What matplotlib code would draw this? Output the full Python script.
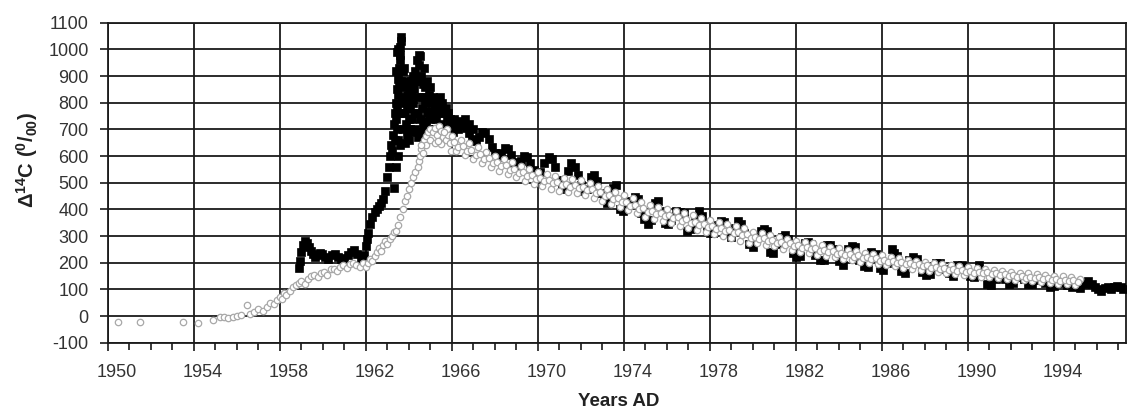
import matplotlib
matplotlib.use("Agg")
import matplotlib.pyplot as plt
from matplotlib.ticker import MultipleLocator, FixedLocator
from matplotlib.transforms import ScaledTranslation

plt.rcParams['font.family'] = ['Liberation Sans', 'DejaVu Sans']
plt.rcParams['axes.unicode_minus'] = False
plt.rcParams['mathtext.fontset'] = 'custom'
plt.rcParams['mathtext.rm'] = 'Liberation Sans:bold'
plt.rcParams['mathtext.it'] = 'Liberation Sans:bold'
plt.rcParams['mathtext.bf'] = 'Liberation Sans:bold'

# ---------------- data ----------------
# Northern hemisphere (black filled squares)
nh_year = [
    1958.9, 1958.95, 1959.0, 1959.05, 1959.15, 1959.25, 1959.35, 1959.45, 1959.55, 1959.65,
    1959.75, 1959.85, 1959.95, 1960.1, 1960.25, 1960.4, 1960.55, 1960.7, 1960.85, 1961.0,
    1961.15, 1961.3, 1961.45, 1961.6, 1961.75, 1961.9, 1962.0, 1962.05, 1962.1, 1962.2,
    1962.3, 1962.4, 1962.5, 1962.6, 1962.7, 1962.8, 1962.9, 1963.0, 1963.05, 1963.1,
    1963.15, 1963.2, 1963.25, 1963.3, 1963.35, 1963.4, 1963.45, 1963.5, 1963.55, 1963.6,
    1963.65, 1963.62, 1963.6, 1963.58, 1963.55, 1963.5, 1963.45, 1963.4, 1963.42, 1963.5,
    1963.6, 1963.7, 1963.72, 1963.75, 1963.8, 1963.85, 1963.9, 1963.95, 1964.0, 1964.05,
    1964.1, 1964.15, 1964.2, 1964.3, 1964.35, 1964.5, 1964.45, 1964.55, 1964.65, 1964.75,
    1964.85, 1964.95, 1965.05, 1964.9, 1964.8, 1964.7, 1964.55, 1964.4, 1964.2, 1964.0,
    1965.15, 1965.25, 1965.35, 1965.45, 1965.55, 1965.65, 1965.75, 1965.85, 1965.95, 1966.05,
    1966.2, 1966.35, 1966.5, 1966.65, 1966.8, 1966.95, 1967.1, 1967.25, 1967.4, 1967.55,
    1967.7, 1967.85, 1968.0, 1968.15, 1968.3, 1968.45, 1968.6, 1968.75, 1968.9, 1969.05,
    1969.2, 1969.35, 1969.5, 1969.65, 1969.8, 1969.95, 1970.1, 1970.3, 1970.5, 1970.65,
    1970.8, 1970.95, 1971.1, 1971.25, 1971.4, 1971.55, 1971.7, 1971.85, 1972.0, 1972.15,
    1972.3, 1972.45, 1972.6, 1972.75, 1972.9, 1973.05, 1973.2, 1973.35, 1973.5, 1973.65,
    1973.8, 1973.95, 1974.1, 1974.3, 1974.5, 1974.65, 1974.8, 1974.95, 1975.1, 1975.25,
    1975.45, 1975.6, 1975.75, 1975.9, 1976.05, 1976.2, 1976.4, 1976.6, 1976.8, 1976.95,
    1977.1, 1977.3, 1977.5, 1977.65, 1977.85, 1978.0, 1978.15, 1978.35, 1978.5, 1978.65,
    1978.85, 1979.0, 1979.15, 1979.3, 1979.45, 1979.6, 1979.8, 1980.0, 1980.15, 1980.35,
    1980.5, 1980.65, 1980.8, 1980.95, 1981.15, 1981.35, 1981.5, 1981.65, 1981.85, 1982.0,
    1982.2, 1982.4, 1982.55, 1982.7, 1982.9, 1983.1, 1983.3, 1983.45, 1983.6, 1983.8,
    1984.0, 1984.2, 1984.4, 1984.6, 1984.75, 1984.95, 1985.15, 1985.35, 1985.5, 1985.7,
    1985.9, 1986.05, 1986.25, 1986.45, 1986.55, 1986.7, 1986.9, 1987.05, 1987.25, 1987.45,
    1987.65, 1987.85, 1988.05, 1988.25, 1988.5, 1988.7, 1988.9, 1989.1, 1989.3, 1989.5,
    1989.7, 1989.9, 1990.1, 1990.3, 1990.5, 1990.7, 1990.9, 1991.05, 1991.3, 1991.5,
    1991.7, 1991.9, 1992.1, 1992.4, 1992.6, 1992.8, 1993.0, 1993.3, 1993.6, 1993.8,
    1994.0, 1994.3, 1994.6, 1994.85, 1995.0, 1995.2, 1995.45, 1995.6, 1995.75, 1995.9,
    1996.05, 1996.2, 1996.35, 1996.5, 1996.65, 1996.8, 1996.95, 1997.1, 1997.2,
]
nh_d14c = [
    180, 205, 240, 265, 280, 272, 258, 245, 232, 220,
    228, 238, 232, 222, 214, 228, 232, 222, 214, 218,
    228, 240, 246, 232, 218, 228, 262, 290, 312, 345,
    372, 390, 400, 412, 425, 440, 470, 520, 560, 600,
    640, 620, 680, 720, 760, 800, 850, 890, 930, 980,
    1030, 1045, 1010, 960, 870, 830, 780, 740, 700, 660,
    640, 920, 860, 800, 760, 720, 680, 700, 740, 780,
    830, 870, 900, 920, 960, 975, 940, 900, 870, 860,
    880, 830, 800, 770, 730, 700, 690, 670, 690, 660,
    760, 740, 790, 820, 800, 770, 745, 715, 700, 690,
    710, 730, 725, 705, 685, 665, 655, 670, 690, 688,
    665, 635, 610, 598, 612, 630, 625, 605, 578, 565,
    580, 600, 595, 575, 548, 530, 540, 575, 598, 590,
    560, 510, 485, 475, 545, 572, 560, 530, 490, 470,
    475, 520, 530, 505, 460, 440, 425, 450, 480, 492,
    400, 395, 410, 430, 448, 440, 385, 365, 345, 360,
    425, 430, 395, 350, 345, 360, 395, 390, 385, 320,
    325, 360, 392, 375, 330, 310, 312, 340, 358, 352,
    310, 298, 330, 356, 345, 310, 270, 258, 290, 318,
    326, 318, 240, 236, 270, 298, 302, 290, 235, 222,
    225, 272, 278, 270, 230, 212, 210, 266, 268, 250,
    205, 192, 250, 264, 258, 210, 188, 185, 240, 232,
    180, 172, 200, 250, 235, 225, 170, 160, 210, 222,
    215, 165, 155, 158, 200, 198, 175, 160, 150, 190,
    192, 165, 150, 145, 190, 170, 120, 115, 140, 150,
    140, 122, 125, 145, 140, 122, 122, 135, 125, 108,
    112, 125, 118, 108, 112, 105, 122, 130, 120, 110,
    100, 95, 105, 110, 100, 108, 112, 108, 100,
]

# extra northern samples in the 1963-1967 bomb peak
nh_peak_year = [
    1963.35, 1963.4, 1963.45, 1963.5, 1963.55, 1963.65, 1963.68, 1963.7, 1963.7, 1963.8,
    1963.82, 1963.9, 1963.9, 1964.0, 1964.0, 1964.05, 1964.1, 1964.15, 1964.2, 1964.25,
    1964.25, 1964.3, 1964.35, 1964.4, 1964.4, 1964.5, 1964.5, 1964.6, 1964.6, 1964.65,
    1964.7, 1964.75, 1964.8, 1964.85, 1964.9, 1965.0, 1965.0, 1965.1, 1965.1, 1965.2,
    1965.3, 1965.4, 1965.5, 1965.6, 1965.7, 1965.8, 1965.9, 1966.0, 1966.1, 1966.3,
    1966.6, 1966.8, 1967.0, 1963.3, 1963.38, 1963.48, 1963.75, 1964.45, 1965.25, 1965.45,
]
nh_peak_d14c = [
    660, 920, 990, 1000, 760, 880, 820, 760, 700, 880,
    650, 830, 780, 860, 800, 700, 880, 740, 800, 760,
    850, 700, 880, 820, 760, 880, 740, 820, 780, 720,
    930, 800, 820, 760, 700, 740, 860, 700, 820, 780,
    700, 760, 720, 700, 780, 760, 740, 720, 740, 700,
    740, 720, 700, 480, 560, 600, 930, 980, 810, 760,
]

# Southern hemisphere (open grey circles)
sh_year = [
    1950.45, 1951.5, 1953.5, 1954.2, 1954.9, 1955.2, 1955.4, 1955.6, 1955.8, 1956.0,
    1956.2, 1956.45, 1956.6, 1956.8, 1957.0, 1957.2, 1957.4, 1957.55, 1957.7, 1957.85,
    1958.0, 1958.1, 1958.2, 1958.3, 1958.45, 1958.6, 1958.75, 1958.9, 1959.0, 1959.15,
    1959.3, 1959.45, 1959.6, 1959.75, 1959.9, 1960.05, 1960.2, 1960.35, 1960.5, 1960.65,
    1960.8, 1960.95, 1961.1, 1961.25, 1961.4, 1961.55, 1961.7, 1961.85, 1962.0, 1962.1,
    1962.2, 1962.3, 1962.4, 1962.5, 1962.6, 1962.7, 1962.8, 1962.9, 1963.0, 1963.1,
    1963.2, 1963.3, 1963.4, 1963.5, 1963.6, 1963.7, 1963.8, 1963.9, 1964.0, 1964.1,
    1964.2, 1964.3, 1964.4, 1964.45, 1964.5, 1964.55, 1964.6, 1964.7, 1964.8, 1964.9,
    1965.0, 1965.1, 1965.2, 1965.3, 1965.4, 1965.5, 1965.6, 1965.7, 1965.8, 1965.9,
    1964.8, 1965.0, 1965.2, 1965.5, 1965.75, 1965.95, 1964.65, 1965.35, 1965.65, 1964.55,
    1966.0, 1966.2, 1966.4, 1966.6, 1966.8, 1967.0, 1967.2, 1967.4, 1967.6, 1967.8,
    1968.0, 1968.2, 1968.4, 1968.6, 1968.8, 1969.0, 1969.2, 1969.4, 1969.6, 1969.8,
    1970.0, 1970.2, 1970.4, 1970.6, 1970.8, 1971.0, 1971.2, 1971.4, 1971.6, 1971.8,
    1972.0, 1972.2, 1972.4, 1972.6, 1972.8, 1973.0, 1973.2, 1973.4, 1973.6, 1973.8,
    1974.0, 1974.2, 1974.4, 1974.6, 1974.8, 1975.0, 1975.2, 1975.4, 1975.6, 1975.8,
    1976.0, 1976.2, 1976.4, 1976.6, 1976.8, 1977.0, 1977.2, 1977.4, 1977.6, 1977.8,
    1978.0, 1978.2, 1978.4, 1978.6, 1978.8, 1979.0, 1979.2, 1979.4, 1979.6, 1979.8,
    1980.0, 1980.2, 1980.4, 1980.6, 1980.8, 1981.0, 1981.2, 1981.4, 1981.6, 1981.8,
    1982.0, 1982.2, 1982.4, 1982.6, 1982.8, 1983.0, 1983.2, 1983.4, 1983.6, 1983.8,
    1984.0, 1984.2, 1984.4, 1984.6, 1984.8, 1985.0, 1985.2, 1985.4, 1985.6, 1985.8,
    1986.0, 1986.2, 1986.4, 1986.6, 1986.8, 1987.0, 1987.2, 1987.4, 1987.6, 1987.8,
    1988.0, 1988.2, 1988.4, 1988.6, 1988.8, 1989.0, 1989.2, 1989.4, 1989.6, 1989.8,
    1990.0, 1990.2, 1990.4, 1990.6, 1990.8, 1991.0, 1991.2, 1991.4, 1991.6, 1991.8,
    1992.0, 1992.2, 1992.4, 1992.6, 1992.8, 1993.0, 1993.2, 1993.4, 1993.6, 1993.8,
    1994.0, 1994.2, 1994.4, 1994.6, 1994.8, 1995.0, 1995.2,
]
sh_d14c = [
    -22, -22, -22, -28, -15, -5, -2, -8, -5, 0,
    5, 40, 8, 15, 25, 20, 35, 50, 45, 60,
    72, 65, 85, 80, 95, 110, 115, 125, 130, 120,
    140, 150, 155, 145, 160, 165, 155, 175, 178, 170,
    185, 190, 180, 195, 200, 190, 185, 200, 185, 200,
    215, 205, 225, 240, 255, 245, 265, 280, 270, 290,
    300, 315, 320, 340, 370, 400, 430, 450, 475, 500,
    520, 540, 560, 580, 600, 625, 645, 660, 675, 690,
    700, 690, 705, 680, 712, 695, 670, 660, 680, 650,
    640, 660, 650, 645, 700, 620, 610, 655, 690, 640,
    675, 618, 661, 604, 647, 590, 632, 574, 616, 558,
    600, 544, 588, 532, 576, 520, 564, 508, 552, 496,
    540, 486, 532, 478, 524, 470, 518, 465, 513, 461,
    509, 454, 499, 444, 489, 433, 477, 421, 465, 409,
    453, 397, 441, 385, 429, 373, 418, 363, 409, 355,
    401, 347, 393, 339, 385, 331, 377, 323, 369, 315,
    361, 307, 353, 299, 345, 291, 337, 283, 329, 275,
    316, 273, 310, 267, 304, 261, 297, 253, 290, 246,
    283, 241, 278, 236, 273, 230, 265, 226, 260, 221,
    254, 215, 248, 210, 243, 204, 238, 199, 233, 194,
    228, 190, 221, 187, 216, 182, 212, 178, 208, 174,
    204, 170, 199, 165, 194, 160, 190, 158, 186, 155,
    183, 151, 180, 148, 177, 145, 173, 142, 170, 140,
    166, 137, 163, 134, 160, 131, 158, 128, 155, 125,
    152, 122, 149, 119, 146, 118, 140,
]

# second southern row, interleaved between the first
sh_b_year = [
    1966.1, 1966.3, 1966.5, 1966.7, 1966.9, 1967.1, 1967.3, 1967.5, 1967.7, 1967.9,
    1968.1, 1968.3, 1968.5, 1968.7, 1968.9, 1969.1, 1969.3, 1969.5, 1969.7, 1969.9,
    1970.1, 1970.3, 1970.5, 1970.7, 1970.9, 1971.1, 1971.3, 1971.5, 1971.7, 1971.9,
    1972.1, 1972.3, 1972.5, 1972.7, 1972.9, 1973.1, 1973.3, 1973.5, 1973.7, 1973.9,
    1974.1, 1974.3, 1974.5, 1974.7, 1974.9, 1975.1, 1975.3, 1975.5, 1975.7, 1975.9,
    1976.1, 1976.3, 1976.5, 1976.7, 1976.9, 1977.1, 1977.3, 1977.5, 1977.7, 1977.9,
    1978.1, 1978.3, 1978.5, 1978.7, 1978.9, 1979.1, 1979.3, 1979.5, 1979.7, 1979.9,
    1980.1, 1980.3, 1980.5, 1980.7, 1980.9, 1981.1, 1981.3, 1981.5, 1981.7, 1981.9,
    1982.1, 1982.3, 1982.5, 1982.7, 1982.9, 1983.1, 1983.3, 1983.5, 1983.7, 1983.9,
    1984.1, 1984.3, 1984.5, 1984.7, 1984.9, 1985.1, 1985.3, 1985.5, 1985.7, 1985.9,
    1986.1, 1986.3, 1986.5, 1986.7, 1986.9, 1987.1, 1987.3, 1987.5, 1987.7, 1987.9,
    1988.1, 1988.3, 1988.5, 1988.7, 1988.9, 1989.1, 1989.3, 1989.5, 1989.7, 1989.9,
    1990.1, 1990.3, 1990.5, 1990.7, 1990.9, 1991.1, 1991.3, 1991.5, 1991.7, 1991.9,
    1992.1, 1992.3, 1992.5, 1992.7, 1992.9, 1993.1, 1993.3, 1993.5, 1993.7, 1993.9,
    1994.1, 1994.3, 1994.5, 1994.7, 1994.9, 1995.1,
]
sh_b_d14c = [
    652, 634, 638, 620, 624, 605, 608, 590, 592, 574,
    577, 561, 565, 549, 553, 537, 540, 525, 528, 513,
    517, 505, 509, 497, 501, 490, 495, 485, 490, 480,
    485, 472, 475, 461, 465, 450, 453, 438, 441, 426,
    429, 414, 417, 402, 405, 391, 394, 382, 386, 374,
    378, 366, 370, 358, 362, 350, 354, 342, 346, 334,
    338, 326, 330, 318, 322, 310, 314, 302, 306, 294,
    298, 288, 292, 282, 286, 275, 279, 268, 272, 261,
    265, 256, 260, 251, 255, 245, 249, 240, 244, 234,
    238, 228, 232, 223, 227, 218, 222, 213, 217, 208,
    212, 203, 207, 198, 202, 194, 198, 190, 194, 186,
    190, 181, 185, 176, 180, 172, 176, 169, 173, 166,
    170, 163, 167, 160, 164, 156, 160, 153, 157, 150,
    154, 147, 151, 144, 148, 142, 146, 139, 143, 136,
    140, 133, 137, 130, 134, 127,
]

y_ticks = [-100, 0, 100, 200, 300, 400, 500, 600, 700, 800, 900, 1000, 1100]
x_ticks = [1950, 1954, 1958, 1962, 1966, 1970, 1974, 1978, 1982, 1986, 1990, 1994]

# ---------------- figure ----------------
W, H = 1128, 409
fig = plt.figure(figsize=(W / 100, H / 100), dpi=100)
L, R, T, B = 108, 1126, 22.7, 342.7
ax = fig.add_axes([L / W, 1 - B / H, (R - L) / W, (B - T) / H])

grid_c = '#1a1a1a'
ax.set_xlim(1950, 1997.35)
ax.set_ylim(-100, 1100)
ax.xaxis.set_major_locator(FixedLocator(x_ticks))
ax.xaxis.set_minor_locator(MultipleLocator(1))
ax.yaxis.set_major_locator(FixedLocator(y_ticks))
ax.grid(True, which='major', color=grid_c, linewidth=1.3)
ax.set_axisbelow(True)
for s in ax.spines.values():
    s.set_color(grid_c)
    s.set_linewidth(1.3)

ax.tick_params(axis='both', which='major', direction='out', length=6, width=1.2,
               color=grid_c, labelsize=13, labelcolor='#333333')
ax.tick_params(axis='x', which='minor', direction='out', length=5, width=1.2, color=grid_c)
ax.tick_params(axis='x', which='major', pad=9)
ax.tick_params(axis='y', which='major', pad=8)

for lab in ax.get_xticklabels():
    lab.set_transform(lab.get_transform() + ScaledTranslation(9 / 100, 0, fig.dpi_scale_trans))

ms_black = 5.4
ax.plot(nh_year, nh_d14c, linestyle='none', marker='s', markersize=ms_black,
        markerfacecolor='black', markeredgecolor='black', markeredgewidth=0.5, zorder=3)
ax.plot(nh_peak_year, nh_peak_d14c, linestyle='none', marker='s', markersize=ms_black,
        markerfacecolor='black', markeredgecolor='black', markeredgewidth=0.5, zorder=3)
for yrs, vals in ((sh_year, sh_d14c), (sh_b_year, sh_b_d14c)):
    ax.plot(yrs, vals, linestyle='none', marker='o', markersize=4.6,
            markerfacecolor='white', markeredgecolor='#a8a8a8', markeredgewidth=0.9, zorder=4)

fig.text(27 / W, 1 - 160 / H, r'$\Delta^{14}$C ($^{0}$/$_{00}$)', rotation=90,
         ha='center', va='center', fontsize=14.5, fontweight='bold', color='#222222')
fig.text(619 / W, 1 - 401 / H, 'Years AD', ha='center', va='center',
         fontsize=13.5, fontweight='bold', color='#222222')

fig.savefig('out.png', dpi=100)
